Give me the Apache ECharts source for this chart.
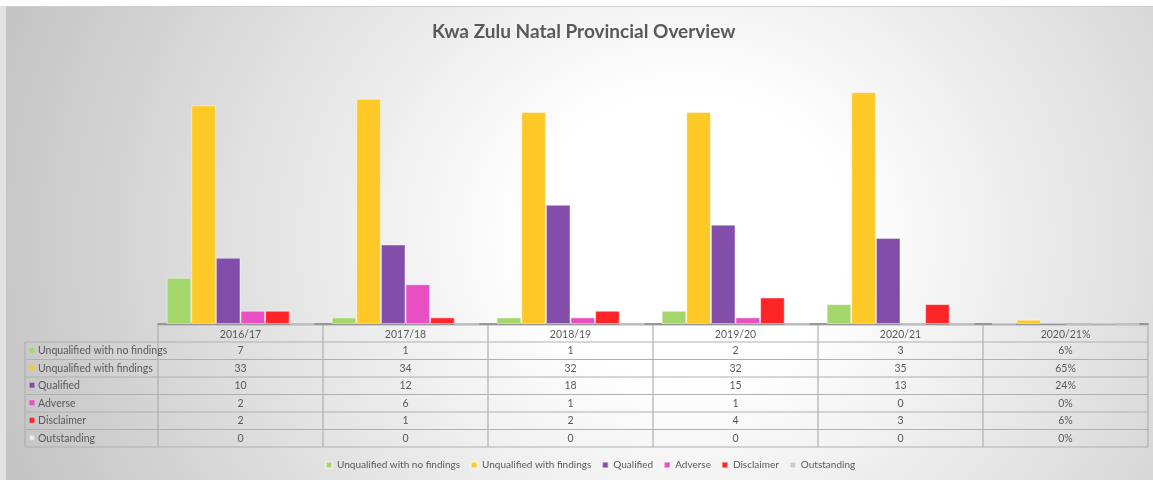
<!DOCTYPE html>
<html>
<head>
<meta charset="utf-8">
<title>Kwa Zulu Natal Provincial Overview</title>
<script src="https://cdn.jsdelivr.net/npm/echarts@6/dist/echarts.min.js"></script>
<style>
	html, body { margin: 0; padding: 0; background: #ffffff; }
	#wrap { position: relative; width: 1153px; height: 480px; overflow: hidden; }
	#strip { position: absolute; left: 0; top: 6px; width: 6px; height: 474px; background: #e2e2e2; }
	#box {
		position: absolute; left: 6px; top: 6px; width: 1147px; height: 474px;
		border-top: 1px solid #cfcfcf; box-sizing: border-box;
		background: radial-gradient(ellipse 720px 640px at 680px 230px, #ffffff 0%, #ffffff 22%, #c4c4c4 100%);
	}
	#chart { position: absolute; left: 0; top: 0; width: 1153px; height: 480px; }
</style>
</head>
<body>
<div id="wrap">
	<div id="strip"></div>
	<div id="box"></div>
	<div id="chart"></div>
</div>
<script>
	// categories (last one is the percentage column)
	var categories = ['2016/17', '2017/18', '2018/19', '2019/20', '2020/21', '2020/21%'];
	var seriesNames = ['Unqualified with no findings', 'Unqualified with findings', 'Qualified', 'Adverse', 'Disclaimer', 'Outstanding'];
	var seriesColors = ['#a3d66b', '#fec826', '#834ea9', '#e84fc2', '#fe2527', '#c9c9c9'];

	var noFindings   = [7, 1, 1, 2, 3, 0.06];
	var withFindings = [33, 34, 32, 32, 35, 0.65];
	var qualified    = [10, 12, 18, 15, 13, 0.24];
	var adverse      = [2, 6, 1, 1, 0, 0];
	var disclaimer   = [2, 1, 2, 4, 3, 0.06];
	var outstanding  = [0, 0, 0, 0, 0, 0];

	var rows = [noFindings, withFindings, qualified, adverse, disclaimer, outstanding];

	var FONT = 'Lato, "Open Sans", sans-serif';
	var FS = 10.5;
	var TXT = '#595959';
	var LINE = '#b0b0b0';

	var chart = echarts.init(document.getElementById('chart'));

	var series = [];
	for (var i = 0; i < rows.length; i++) {
		series.push({
			name: seriesNames[i],
			type: 'bar',
			data: rows[i],
			barGap: '0%',
			barCategoryGap: '10.5%',
			itemStyle: {
				color: seriesColors[i],
				borderColor: 'rgba(255,255,255,0.45)',
				borderWidth: 1
			}
		});
	}

	chart.setOption({
		backgroundColor: 'transparent',
		title: {
			text: 'Kwa Zulu Natal Provincial Overview',
			left: 427,
			top: 17,
			textStyle: {
				fontFamily: FONT,
				fontSize: 19,
				fontWeight: 'bold',
				color: TXT
			}
		},
		legend: {
			data: seriesNames,
			top: 455,
			left: 320,
			icon: 'rect',
			itemWidth: 6,
			itemHeight: 6,
			itemGap: 10,
			textStyle: { fontFamily: FONT, fontSize: 10, color: TXT }
		},
		grid: {
			left: 158,
			right: 5,
			top: 59,
			bottom: 156
		},
		xAxis: {
			type: 'category',
			data: categories,
			axisLine: { lineStyle: { color: '#979797', width: 2 } },
			axisTick: { show: false },
			axisLabel: {
				margin: 5,
				fontFamily: FONT,
				fontSize: FS,
				color: TXT
			}
		},
		yAxis: {
			type: 'value',
			min: 0,
			max: 40,
			show: false
		},
		series: series
	});

	// data table under the axis
	function drawTable() {
		var c0 = chart.convertToPixel({ xAxisIndex: 0 }, categories[0]);
		var c1 = chart.convertToPixel({ xAxisIndex: 0 }, categories[1]);
		var half = (c1 - c0) / 2;
		var axisY = chart.convertToPixel({ yAxisIndex: 0 }, 0);
		var headTop = axisY + 1;
		var headBottom = axisY + 18;
		var rowH = 17.5;
		var tableLeft = 25;
		var left = c0 - half;
		var right = chart.convertToPixel({ xAxisIndex: 0 }, categories[categories.length - 1]) + half;
		var bottom = headBottom + rowH * rows.length;
		var els = [];

		function line(x1, y1, x2, y2, w) {
			els.push({
				type: 'line',
				silent: true,
				shape: { x1: x1, y1: y1, x2: x2, y2: y2 },
				style: { stroke: LINE, lineWidth: w || 1.2 }
			});
		}

		// horizontal lines
		line(left, headTop, right, headTop);
		for (var r = 0; r <= rows.length; r++) {
			var y = headBottom + r * rowH;
			line(tableLeft, y, right, y);
		}
		// vertical lines
		line(tableLeft, headBottom, tableLeft, bottom);
		for (var k = 0; k <= categories.length; k++) {
			var x = left + k * half * 2;
			line(x, axisY + 1, x, bottom);
		}

		for (var r = 0; r < rows.length; r++) {
			var cy = headBottom + r * rowH + rowH / 2;
			els.push({
				type: 'rect',
				silent: true,
				shape: { x: 29.5, y: cy - 3, width: 5, height: 5 },
				style: {
					fill: r === rows.length - 1 ? '#eeeeee' : seriesColors[r],
					stroke: r === rows.length - 1 ? '#cccccc' : null,
					lineWidth: 0.8
				}
			});
			els.push({
				type: 'text',
				silent: true,
				style: {
					text: seriesNames[r],
					x: 38, y: cy,
					textAlign: 'left', textVerticalAlign: 'middle',
					fill: TXT, font: FS + 'px ' + FONT
				}
			});
			for (var k = 0; k < categories.length; k++) {
				var v = rows[r][k];
				var label = k === categories.length - 1 ? Math.round(v * 100) + '%' : String(v);
				els.push({
					type: 'text',
					silent: true,
					style: {
						text: label,
						x: chart.convertToPixel({ xAxisIndex: 0 }, categories[k]), y: cy,
						textAlign: 'center', textVerticalAlign: 'middle',
						fill: TXT, font: FS + 'px ' + FONT
					}
				});
			}
		}
		chart.setOption({ graphic: { elements: els } });
	}

	drawTable();
</script>
</body>
</html>
